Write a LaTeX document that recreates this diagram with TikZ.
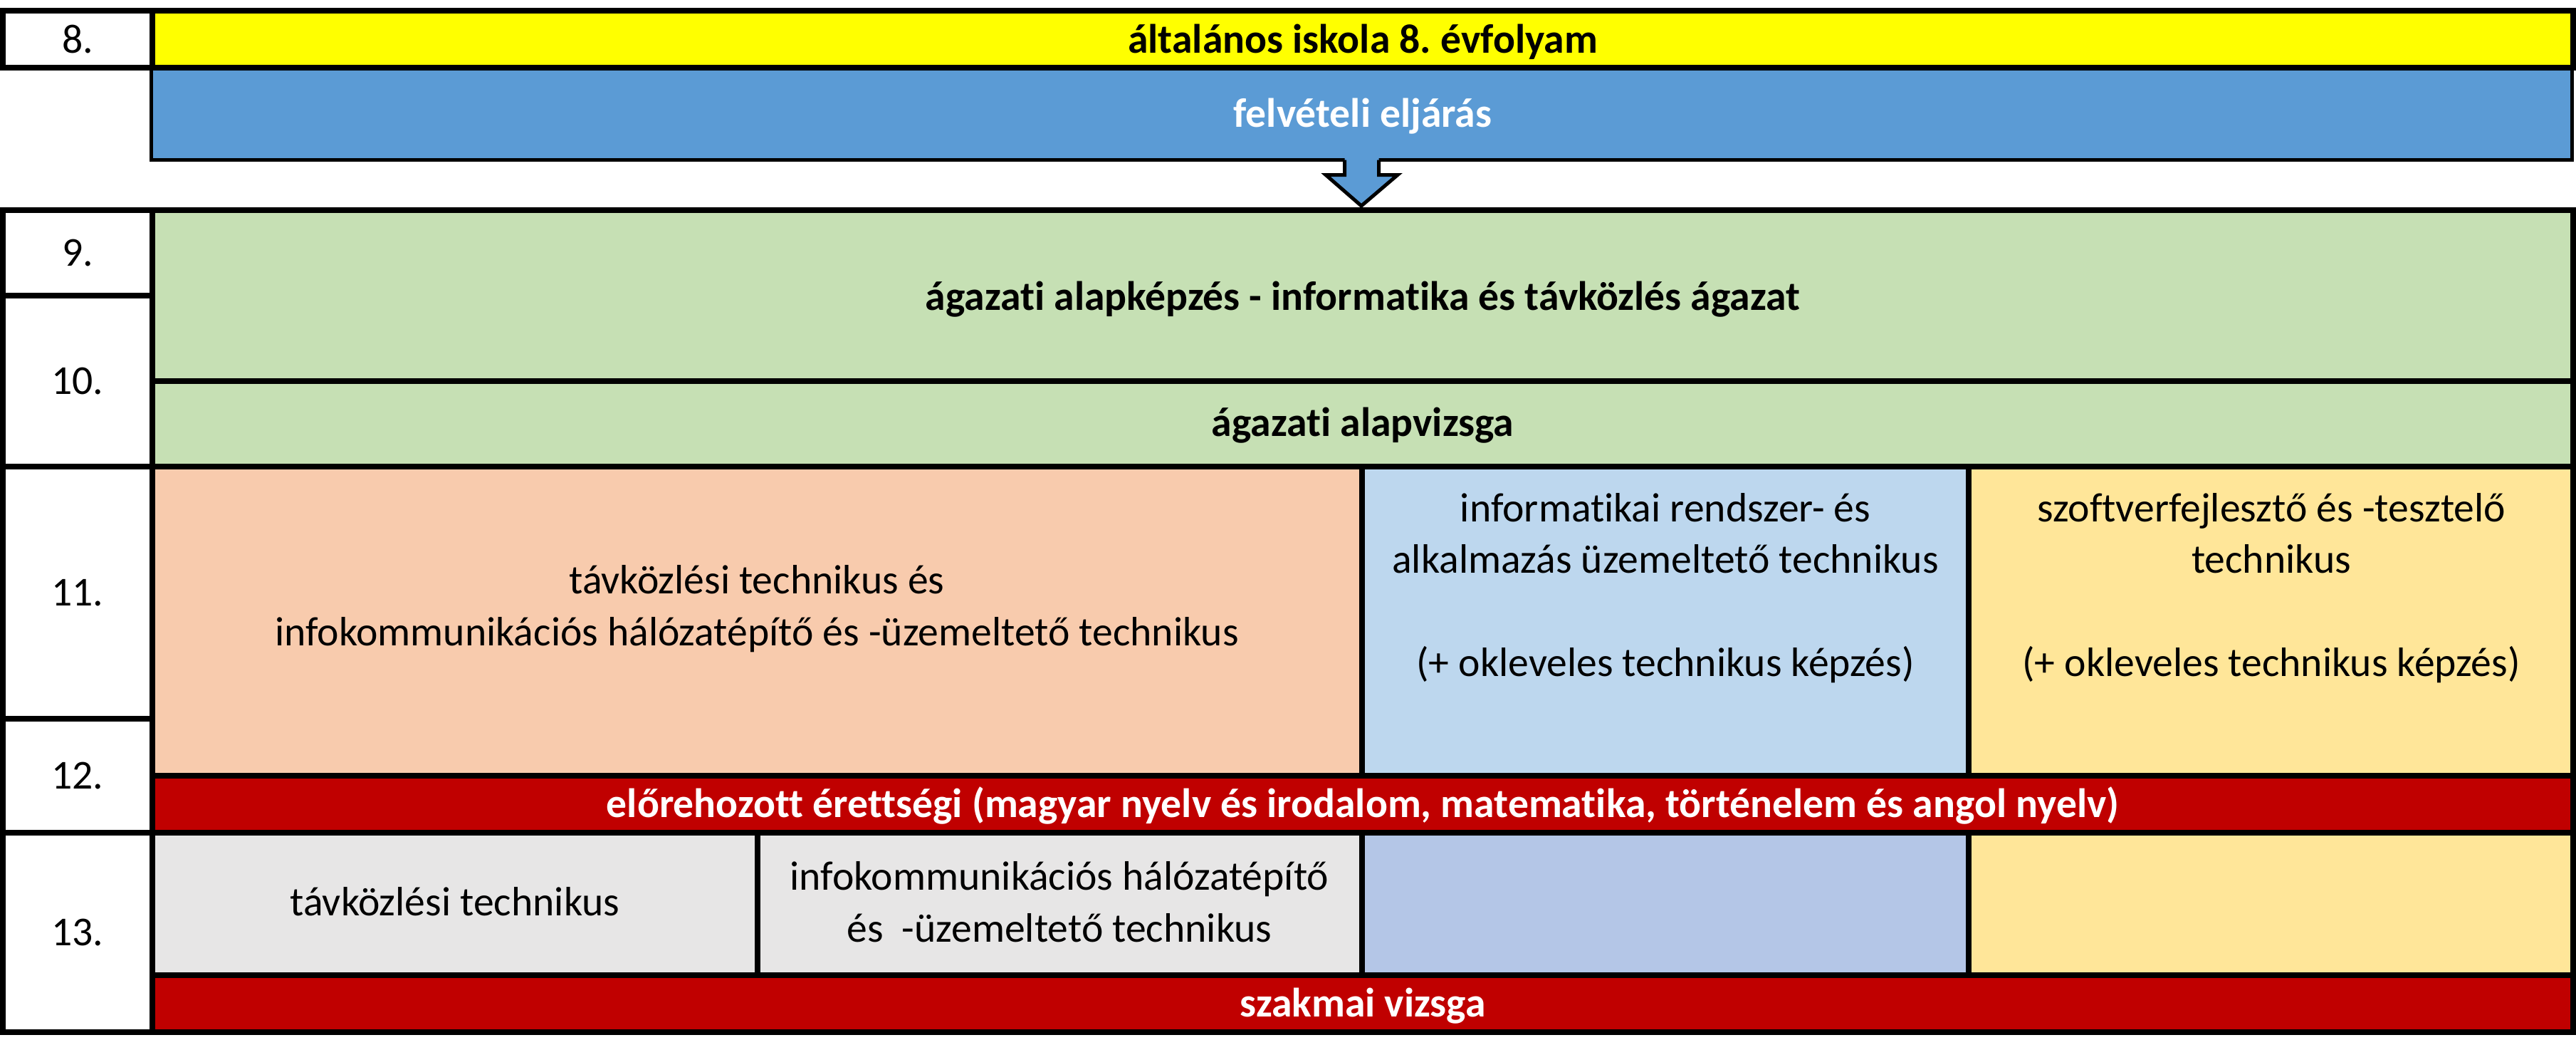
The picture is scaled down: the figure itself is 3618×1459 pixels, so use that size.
\documentclass[tikz,border=0pt]{standalone}
\usepackage{fontspec}
\setmainfont{Carlito}[Ligatures=NoCommon]

\definecolor{evYellow}{HTML}{FFFF00}
\definecolor{felvBlue}{HTML}{5B9BD5}
\definecolor{agGreen}{HTML}{C6E0B4}
\definecolor{tavOrange}{HTML}{F8CBAD}
\definecolor{infoBlue}{HTML}{BDD7EE}
\definecolor{szoftYellow}{HTML}{FFE699}
\definecolor{examRed}{HTML}{C00000}
\definecolor{techGrey}{HTML}{E7E6E6}
\definecolor{okBlue}{HTML}{B4C6E7}

\begin{document}
\begin{tikzpicture}[x=0.01cm,y=-0.01cm,
  grid line/.style={line width=0.08cm,line cap=rect},
  thin line/.style={line width=0.05cm},
  label text/.style={anchor=base,inner sep=0pt,align=center,font=\fontsize{16.4}{20.5}\selectfont},
  bold text/.style={label text,font=\fontsize{16.4}{20.5}\selectfont\bfseries}]

 \useasboundingbox (0,0) rectangle (3618,1459);

 % cells
 \fill[evYellow] (214,15) rectangle (3614,95);
 \fill[felvBlue] (212,95) rectangle (3612,225);
 \fill[agGreen] (214,295) rectangle (3614,655);
 \fill[tavOrange] (214,655) rectangle (1913,1089);
 \fill[infoBlue] (1913,655) rectangle (2765,1089);
 \fill[szoftYellow] (2765,655) rectangle (3614,1089);
 \fill[examRed] (214,1089) rectangle (3614,1169);
 \fill[techGrey] (214,1169) rectangle (1913,1369);
 \fill[okBlue] (1913,1169) rectangle (2765,1369);
 \fill[szoftYellow] (2765,1169) rectangle (3614,1369);
 \fill[examRed] (214,1369) rectangle (3614,1449);

 % felveteli box and arrow
 \draw[thin line] (212.5,95) -- (212.5,224.5) -- (3612.5,224.5) -- (3612.5,95);
 \fill[felvBlue] (1888.5,221) -- (1888.5,245.5) -- (1862,245.5) -- (1912,289)
   -- (1963,245.5) -- (1936.5,245.5) -- (1936.5,221) -- cycle;
 \draw[thin line] (1888.5,224.5) -- (1888.5,245.5) -- (1862,245.5) -- (1912,289)
   -- (1963,245.5) -- (1936.5,245.5) -- (1936.5,224.5);

 % grid
 \draw[grid line] (4,15) rectangle (3614,95);
 \draw[grid line] (214,15) -- (214,95);
 \draw[grid line] (4,295) rectangle (3614,1449);
 \draw[grid line] (214,295) -- (214,1449);
 \foreach \y in {415,655,1009,1169}
   \draw[grid line] (4,\y) -- (214,\y);
 \foreach \y in {535,655,1089,1169,1369}
   \draw[grid line] (214,\y) -- (3614,\y);
 \foreach \x in {1913,2765}
   \draw[grid line] (\x,655) -- (\x,1089);
 \foreach \x in {1064,1913,2765}
   \draw[grid line] (\x,1169) -- (\x,1369);

 % texts (base = last line)
 \node[label text] (n8) at (109,74) {8.};
 \node[bold text] (ev8) at (1914,74) {általános iskola 8.\ évfolyam};
 \node[bold text,text=white] (felv) at (1914,178) {felvételi eljárás};
 \foreach \n/\y in {9/373,10/553,11/850,12/1107,13/1327}
   \node[label text] (n\n) at (109,\y) {\n.};
 \node[bold text] (alap) at (1914,435) {ágazati alapképzés - informatika és távközlés ágazat};
 \node[bold text] (alapv) at (1914,612) {ágazati alapvizsga};
 \node[label text] (tav) at (1063,906)
   {távközlési technikus és\\infokommunikációs hálózatépítő és -üzemeltető technikus};
 \node[label text] (info) at (2339,949)
   {informatikai rendszer- és\\alkalmazás üzemeltető technikus\\[20.5pt](+ okleveles technikus képzés)};
 \node[label text] (szoft) at (3190,949)
   {szoftverfejlesztő és -tesztelő\\technikus\\[20.5pt](+ okleveles technikus képzés)};
 \node[bold text,text=white] (erett) at (1914,1147)
   {előrehozott érettségi (magyar nyelv és irodalom, matematika, történelem és angol nyelv)};
 \node[label text] (tav13) at (639,1285) {távközlési technikus};
 \node[label text] (info13) at (1488,1322) {infokommunikációs hálózatépítő\\és\ \ -üzemeltető technikus};
 \node[bold text,text=white] (szakv) at (1914,1427) {szakmai vizsga};

\end{tikzpicture}
\end{document}
